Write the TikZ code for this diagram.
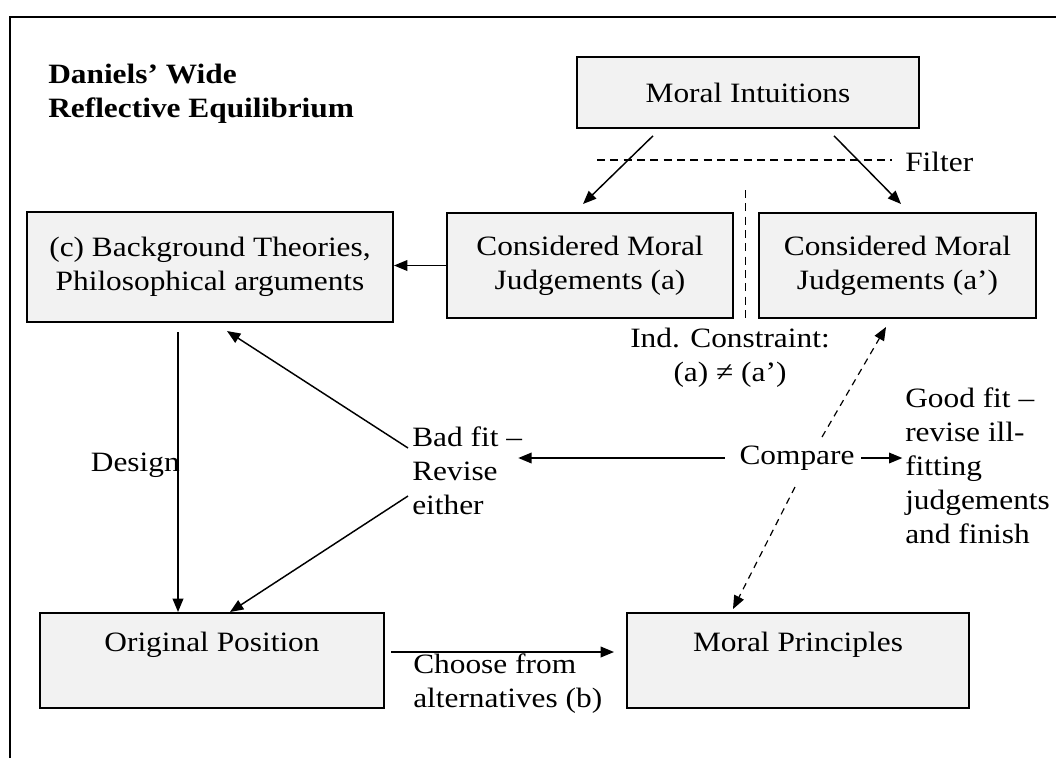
\documentclass[tikz,border=0pt]{standalone}
\usepackage{fontspec}
\setmainfont{Liberation Serif}[FakeStretch=1.12]
\usetikzlibrary{arrows.meta}
\definecolor{boxgray}{HTML}{F2F2F2}
\begin{document}
\begin{tikzpicture}[x=0.75pt,y=-0.75pt,
  font=\fontsize{21}{25.5}\selectfont,
  box/.style={draw=black, line width=1.5pt, fill=boxgray, align=center, inner sep=0pt},
  txt/.style={inner sep=0pt, align=left},
  arr/.style={-{Triangle[length=10pt,width=8pt]}, line width=1.1pt},
  darr/.style={-{Triangle[length=10pt,width=8pt]}, line width=0.9pt, dash pattern=on 5pt off 4pt},
  dline/.style={line width=0.9pt, dash pattern=on 6pt off 4pt}]
\useasboundingbox (0,0) rectangle (1056,758);
% frame
\draw[line width=1.5pt] (10,758) -- (10,17) -- (1056,17);
% title
\node[txt, anchor=north west, font=\fontsize{21}{25.5}\selectfont\bfseries] (title) at (48,64) {Daniels’ Wide\\Reflective Equilibrium};
% boxes
\node[box, minimum width=257pt, minimum height=53pt] (mi) at (748,92.5) {Moral Intuitions};
\node[box, minimum width=214.5pt, minimum height=78.75pt] (cmja) at (590,265.5) {Considered Moral\\Judgements (a)};
\node[box, minimum width=207.75pt, minimum height=78.75pt] (cmjb) at (897.5,265.5) {Considered Moral\\Judgements (a’)};
\node[box, minimum width=274.5pt, minimum height=82.5pt] (bg) at (210,267) {(c) Background Theories,\\Philosophical arguments};
\node[box, minimum width=258pt, minimum height=71.25pt] (op) at (212,660.5) {};
\node[box, minimum width=256.5pt, minimum height=71.25pt] (mp) at (798,660.5) {};
\node[txt] (optext) at (212,645) {Original Position};
\node[txt] (mptext) at (798,645) {Moral Principles};
% text labels
\node[txt, anchor=west] (filter) at (905,162) {Filter};
\node[txt, align=center] (ind) at (730,358) {Ind. Constraint:\\(a) ≠ (a’)};
\node[txt, anchor=east] (design) at (180,465) {Design};
\node[txt, anchor=west] (bad) at (412,471) {Bad fit –\\Revise\\either};
\node[txt] (cmp) at (797,458) {Compare};
\node[txt, anchor=west] (good) at (905,466) {Good fit –\\revise ill-\\fitting\\judgements\\and finish};
\node[txt, anchor=west] (choose) at (413,684) {Choose from\\alternatives (b)};
% filter and independence lines
\coordinate (f1) at (597,160);
\draw[dline, shorten >=10pt] (f1) -- (f1 -| filter.west);
\coordinate (v1) at (745.5,190);
\coordinate (v2) at (745.5,322);
\draw[dline] (v1) -- (v2);
% arrows
\draw[arr] ([shift={(-95,7)}]mi.south) -- ([shift={(-7,-8)}]cmja.north);
\draw[arr] ([shift={(86,7)}]mi.south) -- ([shift={(3.5,-8)}]cmjb.north);
\draw[arr] (cmja.west) -- (cmja.west -| bg.east);
\coordinate (ds) at ([shift={(-32,9)}]bg.south);
\draw[arr] (ds) -- (ds |- op.north);
\draw[arr] ([shift={(-4,-23)}]bad.west) -- ([shift={(17,8)}]bg.south);
\draw[arr] ([shift={(-4,25)}]bad.west) -- ([shift={(18,0)}]op.north);
\draw[arr, shorten <=11pt, shorten >=-3pt] (cmp.west) -- (cmp.west -| bad.east);
\draw[arr, shorten <=5pt, shorten >=2pt] (cmp.east) -- (cmp.east -| good.west);
\draw[darr] ([shift={(25,-21)}]cmp.center) -- ([shift={(-11.5,8)}]cmjb.south);
\draw[darr] ([shift={(-2,29)}]cmp.center) -- ([shift={(-65,-3)}]mp.north);
\draw[arr] ([shift={(6,-8.5)}]op.east) -- ([shift={(-12,-8.5)}]mp.west);
\end{tikzpicture}
\end{document}
